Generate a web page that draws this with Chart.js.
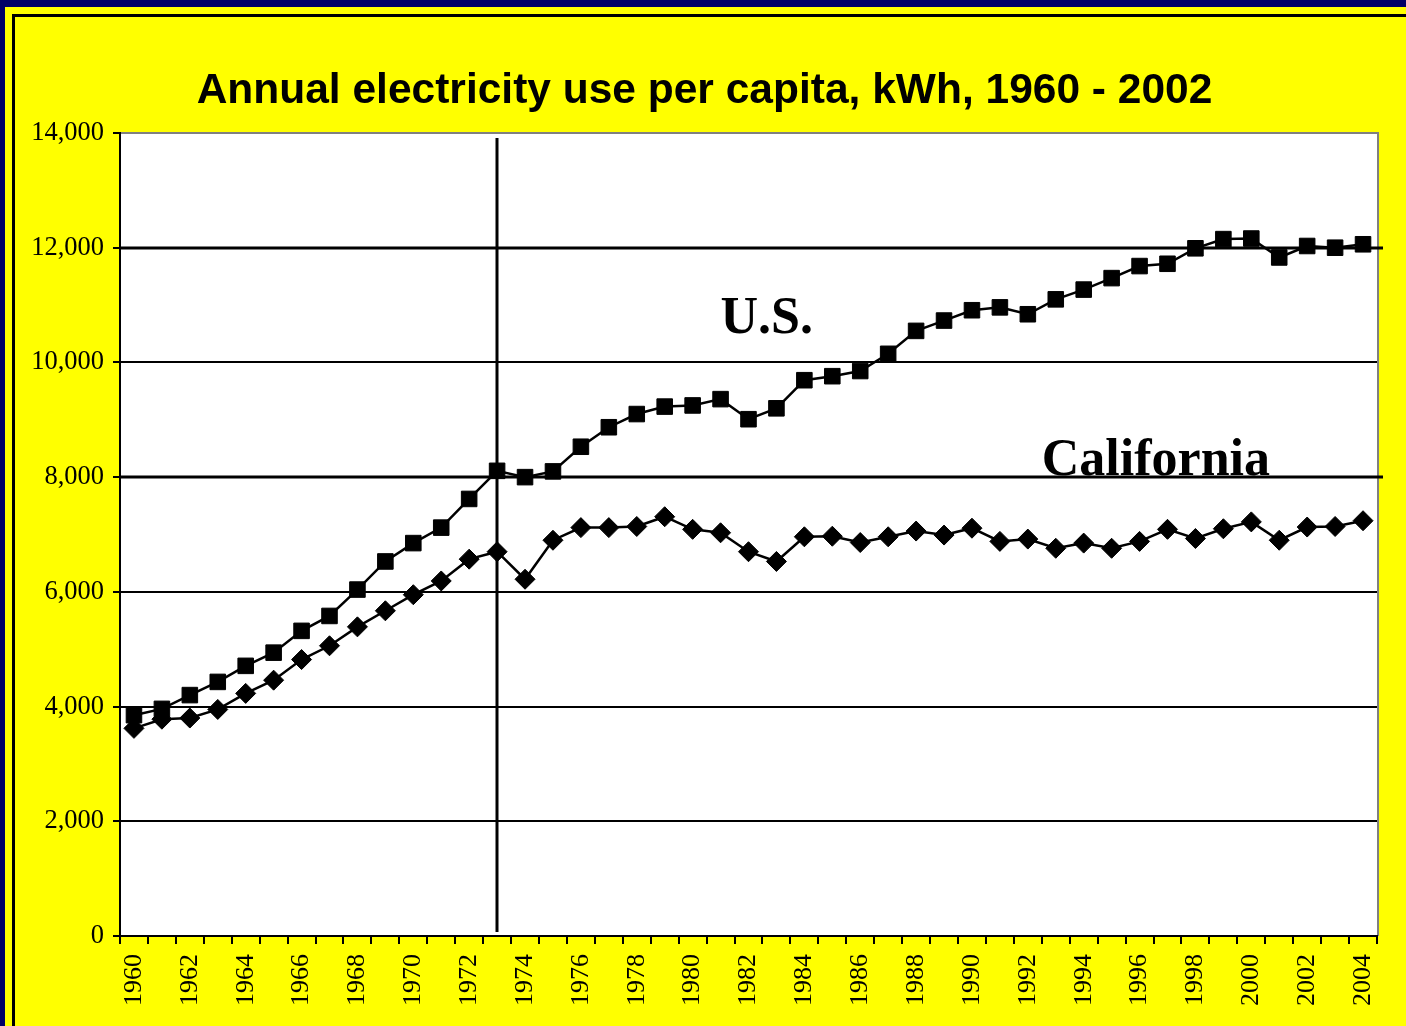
<!DOCTYPE html>
<html>
<head>
<meta charset="utf-8">
<script src="https://cdn.jsdelivr.net/npm/chart.js@4/dist/chart.umd.min.js"></script>
<style>
  html, body { margin:0; padding:0; width:1406px; height:1026px; overflow:hidden; background:#000066; }
  #outer { position:absolute; left:5px; top:7px; width:1420px; height:1040px; background:#ffff00; }
  #inner { position:absolute; left:7px; top:7px; width:1420px; height:1040px; background:#ffff00; border-left:3px solid #000; border-top:3px solid #000; }
  #chart { position:absolute; left:0; top:0; }
</style>
</head>
<body>
<div id="outer"><div id="inner"></div></div>
<canvas id="chart" width="1406" height="1026"></canvas>
<script>
const years = ['1960','1961','1962','1963','1964','1965','1966','1967','1968','1969',
  '1970','1971','1972','1973','1974','1975','1976','1977','1978','1979',
  '1980','1981','1982','1983','1984','1985','1986','1987','1988','1989',
  '1990','1991','1992','1993','1994','1995','1996','1997','1998','1999',
  '2000','2001','2002','2003','2004'];

const usValues = [3850,3960,4200,4430,4710,4940,5320,5580,6040,6530,
  6850,7120,7620,8110,8000,8100,8530,8870,9100,9230,
  9250,9360,9010,9200,9690,9760,9850,10150,10550,10730,
  10910,10960,10840,11100,11270,11470,11680,11720,11990,12150,
  12160,11830,12030,12000,12060];

const caValues = [3620,3780,3800,3950,4230,4460,4820,5060,5390,5670,
  5950,6190,6570,6700,6220,6900,7120,7120,7140,7310,
  7090,7030,6700,6530,6960,6970,6860,6960,7060,6990,
  7110,6880,6920,6760,6850,6760,6880,7090,6930,7100,
  7220,6900,7130,7140,7240];

const yTicks = [0,2000,4000,6000,8000,10000,12000,14000];
const heavyLines = [8000, 12000];   // thicker gridlines
const markerYear = '1973';          // oil-shock divider
const notes = ['U.S.', 'California'];
const noteAt = [[21, 10510], [32.5, 8030]];  // [category index, kWh]

const serif = '"Liberation Serif", "Times New Roman", serif';

// white plot area with grey top/right frame
const plotBg = {
  id:'plotBg',
  beforeDraw(chart){
    const {ctx, chartArea:a} = chart;
    ctx.save();
    ctx.fillStyle = '#fff';
    ctx.fillRect(a.left, a.top, a.right-a.left, a.bottom-a.top);
    ctx.strokeStyle = '#808080'; ctx.lineWidth = 2;
    ctx.beginPath();
    ctx.moveTo(a.left, a.top); ctx.lineTo(a.right+1, a.top); ctx.lineTo(a.right+1, a.bottom);
    ctx.stroke();
    ctx.restore();
  }
};

// heavy gridlines, the 1973 divider and the series names
const extras = {
  id:'extras',
  beforeDatasetsDraw(chart){
    const {ctx, chartArea:a, scales:{x, y}} = chart;
    ctx.save();
    ctx.strokeStyle = '#000'; ctx.lineWidth = 3;
    heavyLines.forEach(v=>{
      const py = Math.round(y.getPixelForValue(v));
      ctx.beginPath(); ctx.moveTo(a.left+1, py); ctx.lineTo(a.right+6, py); ctx.stroke();
    });
    const px = Math.round(x.getPixelForValue(years.indexOf(markerYear)));
    ctx.beginPath(); ctx.moveTo(px, a.top+5); ctx.lineTo(px, a.bottom-4); ctx.stroke();

    ctx.fillStyle = '#000';
    ctx.font = 'bold 52px ' + serif;
    ctx.textAlign = 'left'; ctx.textBaseline = 'alphabetic';
    notes.forEach((t,i)=>{
      ctx.fillText(t, x.getPixelForValue(noteAt[i][0]), y.getPixelForValue(noteAt[i][1]));
    });
    ctx.restore();
  }
};

new Chart(document.getElementById('chart').getContext('2d'), {
  type:'line',
  data:{
    labels: years,
    datasets:[
      {label:'U.S.', data:usValues, borderColor:'#000', backgroundColor:'#000', borderWidth:2.5,
       pointStyle:'rect', pointRadius:11, pointBorderWidth:1, tension:0},
      {label:'California', data:caValues, borderColor:'#000', backgroundColor:'#000', borderWidth:2.5,
       pointStyle:'rectRot', pointRadius:10, pointBorderWidth:1, tension:0}
    ]
  },
  options:{
    responsive:false, animation:false,
    layout:{padding:{left:16, right:13, top:0, bottom:0}},
    plugins:{
      legend:{display:false},
      tooltip:{enabled:false},
      title:{display:true, text:'Annual electricity use per capita, kWh, 1960 - 2002', color:'#000',
        font:{family:'"Liberation Sans", Arial, sans-serif', size:42.5, weight:'bold'},
        padding:{top:66, bottom:16}}
    },
    scales:{
      x:{
        offset:true,
        grid:{offset:true, drawOnChartArea:false, drawTicks:true, tickLength:8, color:'#000', lineWidth:2},
        border:{color:'#000', width:2},
        ticks:{autoSkip:false, minRotation:90, maxRotation:90, padding:10, color:'#000',
          font:{family:serif, size:26},
          callback:(v,i)=> (parseInt(years[i]) % 2 === 0 ? years[i] : '')},
        afterFit:s=>{ s.height = 90; }
      },
      y:{
        min:0, max:14000,
        afterBuildTicks:s=>{ s.ticks = yTicks.map(v=>({value:v})); },
        grid:{color:c=> (c.tick && c.tick.value === 14000 ? '#808080' : '#000'), tickColor:'#000', lineWidth:2, tickLength:7},
        border:{color:'#000', width:2},
        ticks:{padding:9, color:'#000', font:{family:serif, size:26.5},
          callback:v=> v.toLocaleString('en-US')},
        afterFit:s=>{ s.width = 104; }
      },
      // empty right-hand spacer so the title stays centred on the page
      y2:{
        position:'right', min:0, max:14000,
        grid:{display:false}, border:{display:false}, ticks:{display:false},
        afterFit:s=>{ s.width = 16; }
      }
    }
  },
  plugins:[plotBg, extras]
});
</script>
</body>
</html>
